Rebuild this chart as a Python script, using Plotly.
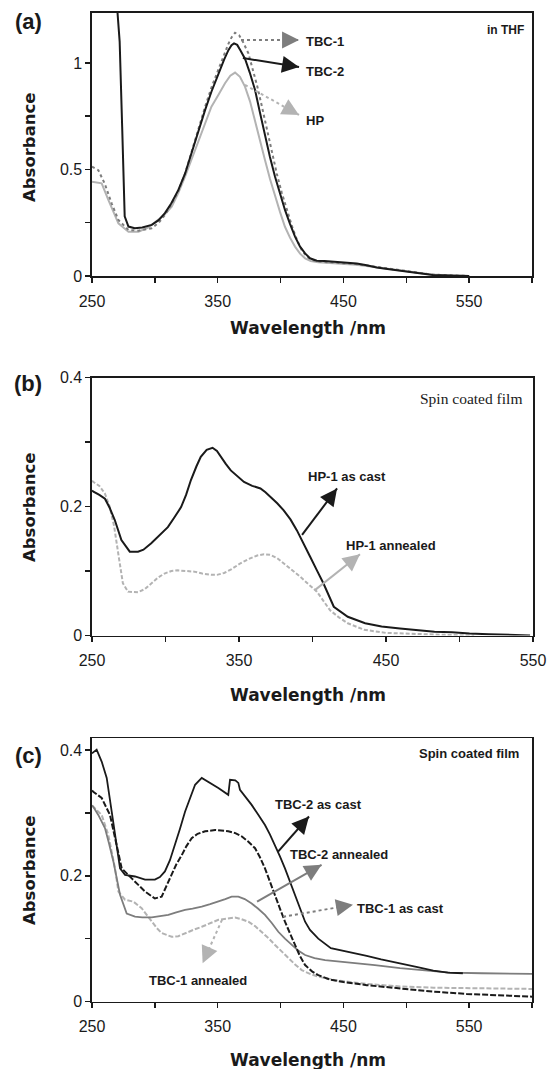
import plotly.graph_objects as go

# ---------------- Panel (a): in THF ----------------
a_tbc2_wl = [269.5, 272, 274, 276, 279, 284, 290, 297.5, 303, 308, 313, 318.7, 324, 329, 334, 340, 345, 350.5, 355, 358.5,
             361, 363, 365.5, 368, 371.7, 375.5, 379.7, 383.5, 387.6, 391.5, 395.6, 399.5, 403.5, 407.5, 411.5, 415.5, 419.5,
             423.4, 428.8, 435, 441.7, 450, 460.6, 468.5, 476.5, 485, 495, 508, 521, 535, 550]
a_tbc2_abs = [1.30, 1.10, 0.70, 0.28, 0.232, 0.224, 0.228, 0.24, 0.262, 0.295, 0.34, 0.404, 0.48, 0.576, 0.67, 0.78, 0.865, 0.95,
              1.015, 1.06, 1.083, 1.092, 1.085, 1.06, 1.02, 0.955, 0.873, 0.77, 0.654, 0.56, 0.466, 0.385, 0.31, 0.245, 0.185,
              0.138, 0.106, 0.083, 0.072, 0.07, 0.068, 0.064, 0.059, 0.05, 0.04, 0.033, 0.025, 0.012, 0.005, 0.002, 0.0]

a_tbc1_wl = [250, 255, 260, 265.7, 271, 279, 287, 297.5, 303, 308, 313, 318.7, 324, 329, 334, 340, 345, 350.5, 355, 358.5, 361,
             363.8, 367, 370, 374.4, 378, 381.5, 385, 389, 393, 397, 401, 405, 409, 413, 417, 421, 425, 430, 440, 450, 460,
             470, 480, 490, 500, 510, 520, 535, 550]
a_tbc1_abs = [0.513, 0.497, 0.435, 0.34, 0.263, 0.216, 0.213, 0.224, 0.25, 0.286, 0.335, 0.40, 0.48, 0.58, 0.68, 0.795, 0.885,
              0.97, 1.04, 1.09, 1.12, 1.142, 1.13, 1.10, 1.045, 0.97, 0.89, 0.80, 0.69, 0.58, 0.48, 0.39, 0.31, 0.235, 0.17,
              0.12, 0.09, 0.075, 0.068, 0.065, 0.062, 0.056, 0.048, 0.04, 0.03, 0.022, 0.014, 0.007, 0.003, 0.0]

a_hp_wl = [250, 257.7, 263, 267, 271, 279, 287, 295, 302.8, 308, 313.4, 318.7, 324, 329.3, 334.6, 340, 345, 350.5, 355.8, 360,
           363.8, 367.7, 371.7, 375.7, 379.7, 383.7, 387.6, 391.6, 395.6, 399.6, 403.5, 407.5, 411.5, 415.5, 419.5, 424, 430,
           440, 450, 460, 470, 480, 490, 500, 510, 520, 535, 550]
a_hp_abs = [0.443, 0.435, 0.357, 0.30, 0.247, 0.208, 0.208, 0.228, 0.263, 0.29, 0.325, 0.39, 0.466, 0.55, 0.638, 0.72, 0.795,
            0.85, 0.905, 0.94, 0.955, 0.935, 0.889, 0.82, 0.732, 0.64, 0.545, 0.455, 0.372, 0.30, 0.231, 0.18, 0.138, 0.105,
            0.083, 0.07, 0.064, 0.061, 0.058, 0.053, 0.046, 0.038, 0.03, 0.021, 0.013, 0.007, 0.002, 0.0]

# ---------------- Panel (b): HP-1 spin coated film ----------------
b_cast_wl = [250, 251, 255, 258.8, 262, 265.5, 270, 275.7, 281.3, 285, 290.3, 296, 301.6, 306, 310.6, 314, 317.3, 321, 324,
             328, 332, 335, 337.6, 341, 344.4, 349, 353.4, 359, 364.6, 368, 371.4, 376, 380.4, 385, 389.4, 394, 398.4, 403,
             407.4, 414.5, 424, 435.8, 447, 459.5, 471, 483, 495, 506.8, 520, 535, 548]
b_cast_abs = [0.225, 0.223, 0.218, 0.212, 0.198, 0.179, 0.148, 0.130, 0.130, 0.133, 0.143, 0.155, 0.168, 0.183, 0.199, 0.218,
              0.241, 0.262, 0.277, 0.288, 0.291, 0.286, 0.277, 0.266, 0.256, 0.246, 0.238, 0.232, 0.228, 0.222, 0.215, 0.205,
              0.194, 0.18, 0.163, 0.143, 0.122, 0.101, 0.081, 0.0446, 0.029, 0.019, 0.014, 0.011, 0.008, 0.006, 0.005, 0.003,
              0.002, 0.001, 0.0]

b_ann_wl = [250, 251, 255, 258.8, 262, 265, 268, 271, 274.5, 281.3, 286, 290.3, 295, 299.3, 304, 308.3, 314, 319.6, 325, 330.9,
            335, 339.9, 345, 351, 356, 362.4, 367, 371.4, 376, 380.4, 386, 391.7, 397, 403, 412, 418, 424, 435, 450, 470, 490,
            510]
b_ann_abs = [0.240, 0.238, 0.232, 0.220, 0.20, 0.17, 0.125, 0.081, 0.068, 0.067, 0.072, 0.081, 0.09, 0.096, 0.10, 0.101, 0.10,
             0.099, 0.096, 0.094, 0.094, 0.097, 0.103, 0.112, 0.118, 0.124, 0.126, 0.125, 0.12, 0.112, 0.102, 0.091, 0.08,
             0.068, 0.039, 0.028, 0.019, 0.009, 0.004, 0.002, 0.001, 0.0]

# ---------------- Panel (c): TBC spin coated film ----------------
c_tbc2c_wl = [250, 253.7, 257.7, 261.7, 265.7, 269.6, 272.3, 276.3, 284.2, 292.2, 300, 304, 308, 312, 316, 320, 324, 328, 332,
              337.3, 342.5, 350.5, 358.4, 359.8, 364, 366.4, 367.7, 372, 377, 382, 387.6, 391.5, 395.6, 399.5, 403.5, 407.5,
              411.5, 415.5, 419.5, 423.4, 430, 440, 447.3, 458, 468.5, 480, 495, 508, 521.5, 533, 545]
c_tbc2c_abs = [0.395, 0.401, 0.382, 0.356, 0.302, 0.249, 0.212, 0.2016, 0.199, 0.194, 0.194, 0.198, 0.207, 0.225, 0.249, 0.275,
               0.302, 0.325, 0.345, 0.356, 0.350, 0.340, 0.329, 0.353, 0.352, 0.348, 0.337, 0.326, 0.313, 0.298, 0.281, 0.266,
               0.249, 0.231, 0.212, 0.19, 0.17, 0.146, 0.127, 0.114, 0.1, 0.085, 0.082, 0.077, 0.0725, 0.067, 0.061, 0.055,
               0.049, 0.046, 0.045]

c_tbc2a_wl = [250, 251, 257.7, 264.3, 269.6, 273.6, 281.6, 287, 292.2, 300, 305.4, 309, 313.4, 317, 321.4, 325, 329.3, 334, 340,
              347.9, 358.4, 364, 369, 374, 379.7, 383.5, 387.6, 391.5, 395.6, 399.5, 403.5, 407.5, 411.5, 415.5, 419.5, 425,
              430, 439, 450, 468.5, 495, 521.5, 548, 575, 600]
c_tbc2a_abs = [0.336, 0.334, 0.324, 0.297, 0.249, 0.212, 0.196, 0.186, 0.175, 0.164, 0.167, 0.183, 0.2016, 0.218, 0.233, 0.247,
               0.26, 0.267, 0.271, 0.273, 0.271, 0.268, 0.263, 0.255, 0.244, 0.23, 0.212, 0.192, 0.17, 0.148, 0.127, 0.107,
               0.09, 0.072, 0.058, 0.048, 0.042, 0.035, 0.031, 0.026, 0.021, 0.0157, 0.012, 0.01, 0.0077]

c_tbc1c_wl = [250, 251, 255, 260.3, 263.5, 267, 272.3, 277.6, 284.2, 290, 297.5, 304, 310.7, 317, 324, 330, 337.3, 344, 350.5,
              356, 361.1, 366.4, 371.5, 377, 382, 387.6, 393, 398.2, 403.5, 408.9, 414, 419.5, 427, 435.4, 445, 455, 475, 495,
              515, 534.8, 560, 582.5, 600]
c_tbc1c_abs = [0.312, 0.31, 0.297, 0.276, 0.252, 0.223, 0.17, 0.14, 0.135, 0.134, 0.134, 0.136, 0.138, 0.142, 0.146, 0.148,
               0.151, 0.155, 0.159, 0.163, 0.167, 0.167, 0.163, 0.156, 0.148, 0.138, 0.125, 0.111, 0.1, 0.09, 0.081, 0.074,
               0.069, 0.066, 0.064, 0.063, 0.058, 0.053, 0.049, 0.046, 0.045, 0.044, 0.044]

c_tbc1a_wl = [250, 251, 257.7, 263, 268.3, 271, 276.3, 282.9, 289.5, 293.5, 297.5, 301.5, 305.4, 313.4, 318.7, 324, 330.6,
              337.3, 344, 350.5, 357, 363.8, 369, 374.4, 379.7, 385, 390.3, 395.6, 401, 406.2, 411.5, 416.8, 423.4, 430, 443,
              468.5, 495, 521.5, 548, 575, 600]
c_tbc1a_abs = [0.312, 0.31, 0.297, 0.265, 0.212, 0.175, 0.162, 0.159, 0.1485, 0.138, 0.127, 0.117, 0.109, 0.103, 0.104, 0.109,
               0.114, 0.119, 0.125, 0.13, 0.132, 0.1337, 0.131, 0.127, 0.12, 0.111, 0.101, 0.09, 0.079, 0.069, 0.059, 0.05,
               0.044, 0.0395, 0.034, 0.028, 0.024, 0.022, 0.021, 0.02, 0.02]

# tick values / labels
x_ticks_a = [250, 300, 350, 400, 450, 500, 550, 600]
x_text_a = ["250", "", "350", "", "450", "", "550", ""]
x_ticks_b = [250, 300, 350, 400, 450, 500, 550]
x_text_b = ["250", "", "350", "", "450", "", "550"]
y_ticks_a = [0, 0.25, 0.5, 0.75, 1.0]
y_text_a = ["0", "", "0.5", "", "1"]
y_ticks_bc = [0, 0.1, 0.2, 0.3, 0.4]
y_text_bc = ["0", "", "0.2", "", "0.4"]

W, H = 549, 1069
BLACK = "#1a1a1a"
DGRAY = "#7d7d7d"
LGRAY = "#b3b3b3"


def px(v):
    return v / W


def py(v):
    return 1 - v / H


fig = go.Figure()


def add_line(x, y, ax, color, dash="solid", width=2.0):
    fig.add_trace(go.Scatter(x=x, y=y, mode="lines", xaxis="x" + ax, yaxis="y" + ax,
                             line=dict(color=color, width=width, dash=dash), showlegend=False,
                             hoverinfo="skip"))


# panel a
add_line(a_hp_wl, a_hp_abs, "", LGRAY, "solid", 2.0)
add_line(a_tbc1_wl, a_tbc1_abs, "", DGRAY, "dot", 2.0)
add_line(a_tbc2_wl, a_tbc2_abs, "", BLACK, "solid", 2.0)
# panel b
add_line(b_ann_wl, b_ann_abs, "2", LGRAY, "4px,2px", 2.0)
add_line(b_cast_wl, b_cast_abs, "2", BLACK, "solid", 2.0)
# panel c
add_line(c_tbc1a_wl, c_tbc1a_abs, "3", LGRAY, "5px,2px", 2.0)
add_line(c_tbc1c_wl, c_tbc1c_abs, "3", DGRAY, "solid", 1.8)
add_line(c_tbc2a_wl, c_tbc2a_abs, "3", BLACK, "6px,2px", 2.0)
add_line(c_tbc2c_wl, c_tbc2c_abs, "3", BLACK, "solid", 1.8)

tickfont = dict(family="Liberation Sans, Arial", size=16, color=BLACK)


def xaxis(domain, rng, tv, tt, anchor):
    return dict(domain=domain, range=rng, tickvals=tv, ticktext=tt, anchor=anchor, showline=True, mirror=True,
                linecolor=BLACK, linewidth=1.6, ticks="outside", ticklen=5, tickwidth=1.5, tickcolor=BLACK,
                showgrid=False, zeroline=False, tickfont=tickfont, ticklabelstandoff=5, fixedrange=True,
                automargin=False)


def yaxis(domain, rng, tv, tt, anchor):
    return dict(domain=domain, range=rng, tickvals=tv, ticktext=tt, anchor=anchor, showline=True, mirror=True,
                linecolor=BLACK, linewidth=1.6, ticks="outside", ticklen=5, tickwidth=1.5, tickcolor=BLACK,
                showgrid=False, zeroline=False, tickfont=tickfont, fixedrange=True, automargin=False)


fig.update_layout(
    width=W, height=H, margin=dict(l=0, r=0, t=0, b=0, autoexpand=False),
    paper_bgcolor="white", plot_bgcolor="white",
    xaxis=xaxis([px(92), px(532)], [250, 600], x_ticks_a, x_text_a, "y"),
    yaxis=yaxis([py(276), py(12.7)], [0, 1.236], y_ticks_a, y_text_a, "x"),
    xaxis2=xaxis([px(92), px(533)], [250, 550], x_ticks_b, x_text_b, "y2"),
    yaxis2=yaxis([py(635.5), py(377.5)], [0, 0.4], y_ticks_bc, y_text_bc, "x2"),
    xaxis3=xaxis([px(92), px(532)], [250, 600], x_ticks_a, x_text_a, "y3"),
    yaxis3=yaxis([py(1001.5), py(738.3)], [0, 0.419], y_ticks_bc, y_text_bc, "x3"),
)

shapes = []
annotations = []

LBL = dict(family="Liberation Sans, Arial", size=13, color=BLACK, weight="bold")


def arrow(ax, tail, head, color, dash="solid", width=1.8):
    shapes.append(dict(type="line", xref="x" + ax, yref="y" + ax, x0=tail[0], y0=tail[1], x1=head[0], y1=head[1],
                       line=dict(color=color, width=width, dash=dash)))
    bx = head[0] - 0.15 * (head[0] - tail[0])
    by = head[1] - 0.15 * (head[1] - tail[1])
    annotations.append(dict(xref="x" + ax, yref="y" + ax, axref="x" + ax, ayref="y" + ax, x=head[0], y=head[1],
                            ax=bx, ay=by, text="", showarrow=True, arrowhead=2, arrowsize=1.7, arrowwidth=2,
                            arrowcolor=color, standoff=0))


def label(ax, x, y, text, font=LBL, xanchor="left"):
    annotations.append(dict(xref="x" + ax, yref="y" + ax, x=x, y=y, text=text, showarrow=False, font=font,
                            xanchor=xanchor, yanchor="middle"))


# panel a annotations
arrow("", (368.5, 1.108), (414.7, 1.108), DGRAY, "dot", 2)
arrow("", (370, 1.023), (414.7, 0.981), BLACK, "solid", 2)
arrow("", (371.7, 0.897), (414.7, 0.756), LGRAY, "dot", 2)
label("", 418.5, 1.10, "TBC-1")
label("", 418.5, 0.958, "TBC-2")
label("", 418.5, 0.728, "HP")
label("", 595, 1.155, "in THF", dict(family="Liberation Sans, Arial", size=12, color=BLACK, weight="bold"), "right")

# panel b annotations
arrow("2", (392.9, 0.156), (416.7, 0.228), BLACK, "solid", 2)
arrow("2", (401.4, 0.070), (432.3, 0.126), LGRAY, "solid", 2)
label("2", 395.6, 0.247, "HP-1 as cast")
label("2", 421.4, 0.140, "HP-1 annealed")
label("2", 544, 0.368, "Spin coated film",
      dict(family="Liberation Serif, Times New Roman", size=15.5, color=BLACK), "right")

# panel c annotations
arrow("3", (398, 0.2387), (422.6, 0.2945), BLACK, "solid", 2)
arrow("3", (381.3, 0.159), (432.6, 0.2175), DGRAY, "solid", 2)
arrow("3", (402, 0.135), (457.6, 0.154), DGRAY, "dot", 2)
arrow("3", (353.4, 0.13), (338, 0.061), LGRAY, "dot", 2)
label("3", 393.7, 0.313, "TBC-2 as cast")
label("3", 406, 0.2335, "TBC-2 annealed")
label("3", 459.2, 0.1485, "TBC-1 as cast")
label("3", 334.3, 0.034, "TBC-1 annealed", xanchor="center")
label("3", 591.3, 0.3955, "Spin coated film", LBL, "right")

# panel letters and axis titles (paper coordinates)
PANEL = dict(family="Liberation Sans, Arial", size=22, color=BLACK, weight="bold")
TITLE = dict(family="DejaVu Sans", size=17, color=BLACK, weight="bold")
for txt, yy in [("(a)", 22), ("(b)", 383), ("(c)", 755)]:
    annotations.append(dict(xref="paper", yref="paper", x=px(28), y=py(yy), text=txt, showarrow=False,
                            font=PANEL, xanchor="center", yanchor="middle"))
for yy in [147, 507, 870]:
    annotations.append(dict(xref="paper", yref="paper", x=px(29), y=py(yy), text="Absorbance", showarrow=False,
                            font=dict(family="DejaVu Sans", size=16.5, color=BLACK, weight="bold"),
                            textangle=-90, xanchor="center", yanchor="middle"))
for yy in [328, 695, 1060]:
    annotations.append(dict(xref="paper", yref="paper", x=px(308), y=py(yy), text="Wavelength /nm", showarrow=False,
                            font=TITLE, xanchor="center", yanchor="middle"))

fig.update_layout(shapes=shapes, annotations=annotations)

fig.write_html("out.html", config={"displayModeBar": False, "staticPlot": True},
               post_script="document.body.style.margin='0';document.body.style.padding='0';"
                           "document.body.style.overflow='hidden';")
